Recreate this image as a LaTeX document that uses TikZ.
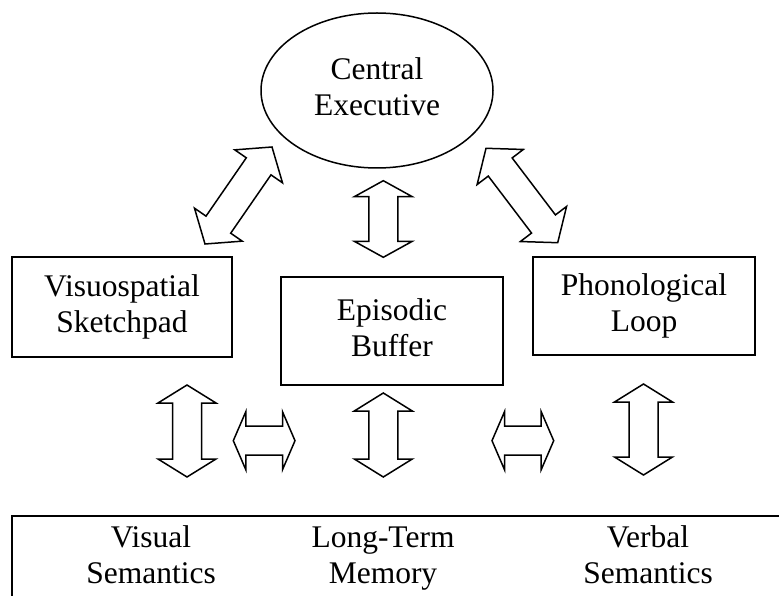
\documentclass[tikz,border=0pt]{standalone}
\usepackage{fontspec}
\setmainfont{Liberation Serif}
\usetikzlibrary{calc,shapes.geometric}
\tikzset{
  txt/.style={font=\fontsize{31.5}{36}\selectfont},
  box/.style={draw, line width=1.5pt, inner sep=0pt, align=center, txt},
  lbl/.style={inner sep=0pt, align=center, txt},
  blk/.style={draw, line width=1.5pt, line join=miter}
}
\newcommand\dblarrow[5]{%
  \draw[blk] (#1) -- ($(#1)!#5!(#2)!#4!90:(#2)$) -- ($(#1)!#5!(#2)!#3!90:(#2)$)
    -- ($(#2)!#5!(#1)!#3!-90:(#1)$) -- ($(#2)!#5!(#1)!#4!-90:(#1)$) -- (#2)
    -- ($(#2)!#5!(#1)!#4!90:(#1)$) -- ($(#2)!#5!(#1)!#3!90:(#1)$)
    -- ($(#1)!#5!(#2)!#3!-90:(#2)$) -- ($(#1)!#5!(#2)!#4!-90:(#2)$) -- cycle;}
\begin{document}
\begin{tikzpicture}[x=1pt,y=-1pt]
\useasboundingbox (0,0) rectangle (779,596);
% nodes
\node[box, ellipse, minimum width=232pt, minimum height=155pt] (ce) at (377,90.5) {Central\strut\\Executive\strut};
\node[box, minimum width=220pt, minimum height=100pt] (vs) at (122,307) {Visuospatial\strut\\Sketchpad\strut};
\node[box, minimum width=222pt, minimum height=108pt] (eb) at (392,331) {Episodic\strut\\Buffer\strut};
\node[box, minimum width=222pt, minimum height=98pt] (pl) at (644,306) {Phonological\strut\\Loop\strut};
% long-term memory strip
\draw[line width=1.5pt] (12,596) -- (12,516) -- (779,516);
\node[lbl] (vis) at (151,558) {Visual\strut\\Semantics\strut};
\node[lbl] (ltm) at (383,558) {Long-Term\strut\\Memory\strut};
\node[lbl] (ver) at (648,558) {Verbal\strut\\Semantics\strut};
% arrow end points
\coordinate (d1a) at (205,244); \coordinate (d1b) at (272,147);
\coordinate (d2a) at (557.7,242.7); \coordinate (d2b) at (486,148.3);
\coordinate (c1a) at (383.3,257.3); \coordinate (c1b) at (383.3,180.7);
\coordinate (v1a) at (187,477); \coordinate (v1b) at (187,385);
\coordinate (v2a) at (383.3,477); \coordinate (v2b) at (383.3,393);
\coordinate (v3a) at (643.5,475); \coordinate (v3b) at (643.5,384);
\coordinate (h1a) at (233.3,440.7); \coordinate (h1b) at (295,440.7);
\coordinate (h2a) at (492,440.7); \coordinate (h2b) at (553.7,440.7);
% block arrows
\dblarrow{d1a}{d1b}{15pt}{29pt}{23.5pt}
\dblarrow{d2a}{d2b}{15pt}{29pt}{23.5pt}
\dblarrow{c1a}{c1b}{14.5pt}{29pt}{16pt}
\dblarrow{v1a}{v1b}{14.5pt}{29pt}{18pt}
\dblarrow{v2a}{v2b}{14.5pt}{29pt}{18pt}
\dblarrow{v3a}{v3b}{14.5pt}{29pt}{18pt}
\dblarrow{h1a}{h1b}{14.5pt}{29pt}{12.5pt}
\dblarrow{h2a}{h2b}{14.5pt}{29pt}{12.5pt}
\end{tikzpicture}
\end{document}
